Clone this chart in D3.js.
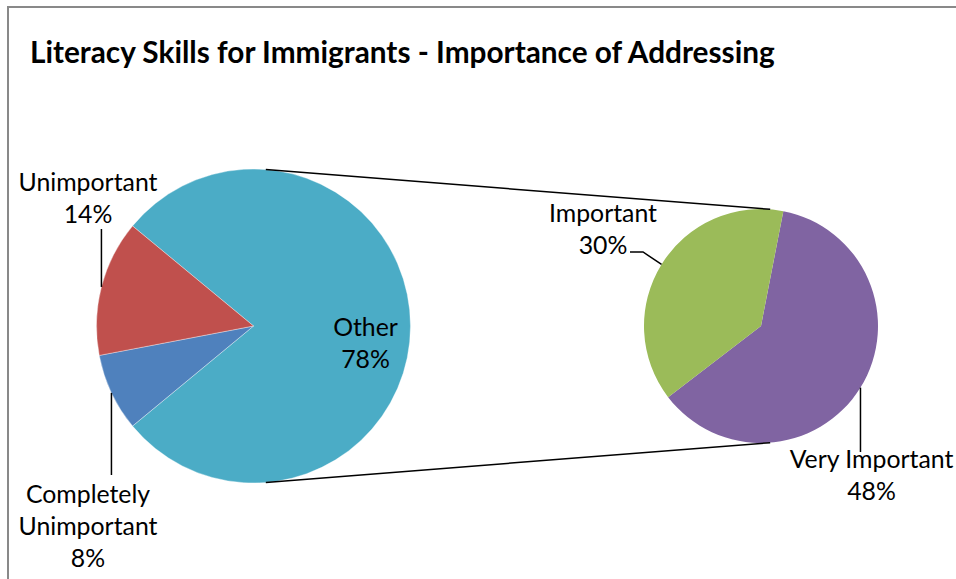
<!DOCTYPE html>
<html>
<head>
<meta charset="utf-8">
<script src="https://cdn.jsdelivr.net/npm/d3@7"></script>
<style>
  html, body { margin: 0; padding: 0; background: #fff; overflow: hidden; }
  svg { display: block; }
</style>
</head>
<body>
<svg id="chart" width="956" height="579"></svg>
<script>
// ---- data ----
const chartTitle = "Literacy Skills for Immigrants - Importance of Addressing";
const primaryCategories = ["Other", "Completely Unimportant", "Unimportant"];
const primaryValues = [78, 8, 14];
const secondaryCategories = ["Very Important", "Important"];
const secondaryValues = [48, 30];

const primaryColors = {"Other": "#4BACC6", "Completely Unimportant": "#4F81BD", "Unimportant": "#C0504D"};
const secondaryColors = {"Very Important": "#8064A2", "Important": "#9BBB59"};

const svg = d3.select("#chart");
const deg = Math.PI / 180;
const FONT = "Lato, 'Open Sans', sans-serif";

// chart border
svg.append("rect").attr("x", 8).attr("y", 7).attr("width", 1200).attr("height", 1200)
  .attr("fill", "none").attr("stroke", "#898989").attr("stroke-width", 2);

// title, fitted to the reference width
const title = svg.append("text").attr("x", 30).attr("y", 63)
  .attr("font-family", FONT).attr("font-weight", "bold").attr("font-size", 30)
  .attr("fill", "#000").text(chartTitle);
const tw = title.node().getComputedTextLength();
title.attr("font-size", 30 * 745 / tw);

// label font size fitted to "Unimportant" width
const probe = svg.append("text").attr("font-family", FONT).attr("font-size", 26).text("Unimportant");
const labelSize = 26 * 139 / probe.node().getComputedTextLength();
probe.remove();

// ---- primary pie ----
const c1 = {x: 253.5, y: 326, r: 157};
const total1 = d3.sum(primaryValues);
const splitFrac = (total1 - primaryValues[0]) / total1;
const start1 = 1.5 * Math.PI + splitFrac * Math.PI - 2 * Math.PI;
const pie1 = d3.pie().sort(null).value(d => d.v).startAngle(start1).endAngle(start1 + 2 * Math.PI);
const arcs1 = pie1(primaryCategories.map((c, i) => ({c, v: primaryValues[i]})));
const arc1 = d3.arc().innerRadius(0).outerRadius(c1.r);
const g1 = svg.append("g").attr("transform", `translate(${c1.x},${c1.y})`);
g1.selectAll("path").data(arcs1).join("path")
  .attr("d", arc1).attr("fill", d => primaryColors[d.data.c])
  .attr("stroke", "#fff").attr("stroke-width", 0.6).attr("stroke-opacity", 0.6);

// ---- secondary pie ----
const c2 = {x: 761, y: 326, r: 117};
const start2 = 11 * deg;
const pie2 = d3.pie().sort(null).value(d => d.v).startAngle(start2).endAngle(start2 + 2 * Math.PI);
const arcs2 = pie2(secondaryCategories.map((c, i) => ({c, v: secondaryValues[i]})));
const arc2 = d3.arc().innerRadius(0).outerRadius(c2.r);
const g2 = svg.append("g").attr("transform", `translate(${c2.x},${c2.y})`);
g2.selectAll("path").data(arcs2).join("path")
  .attr("d", arc2).attr("fill", d => secondaryColors[d.data.c]);

// ---- connector lines ----
const connA = 4.5 * deg;
const pt = (c, a, rr) => [c.x + (rr || c.r) * Math.sin(a), c.y - (rr || c.r) * Math.cos(a)];
[[connA, connA], [Math.PI - connA, Math.PI - connA]].forEach(([a1, a2]) => {
  const p1 = pt(c1, a1), p2 = pt(c2, a2);
  svg.append("line").attr("x1", p1[0]).attr("y1", p1[1]).attr("x2", p2[0]).attr("y2", p2[1])
    .attr("stroke", "#000").attr("stroke-width", 1.5);
});

// ---- labels ----
const mid = d => (d.startAngle + d.endAngle) / 2;
const byName1 = Object.fromEntries(arcs1.map(d => [d.data.c, d]));
const byName2 = Object.fromEntries(arcs2.map(d => [d.data.c, d]));
const pct = v => Math.round(v) + "%";

function label(lines, x, y0) {
  const t = svg.append("text").attr("font-family", FONT).attr("font-size", labelSize)
    .attr("fill", "#000").attr("text-anchor", "middle");
  lines.forEach((l, i) => t.append("tspan").attr("x", x).attr("y", y0 + i * 32.2).text(l));
}
function leader(points) {
  svg.append("path").attr("d", d3.line()(points)).attr("fill", "none")
    .attr("stroke", "#000").attr("stroke-width", 1.5);
}

// Other (inside)
label(["Other", pct(primaryValues[0] / total1 * 100)], 365.5, 336);

// Unimportant
{
  const p = pt(c1, mid(byName1["Unimportant"]));
  label(["Unimportant", pct(primaryValues[2] / total1 * 100)], 88, 190.5);
  leader([[p[0], 229], p]);
}
// Completely Unimportant
{
  const p = pt(c1, mid(byName1["Completely Unimportant"]));
  label(["Completely", "Unimportant", pct(primaryValues[1] / total1 * 100)], 88, 502.5);
  leader([p, [p[0], 475]]);
}
// Important
{
  const p = pt(c2, mid(byName2["Important"]));
  label(["Important", pct(secondaryValues[1] / total1 * 100)], 603, 221.5);
  leader([[630, 252], [643, 252], p]);
}
// Very Important
{
  const p = pt(c2, mid(byName2["Very Important"]));
  label(["Very Important", pct(secondaryValues[0] / total1 * 100)], 871.5, 468);
  leader([p, [p[0], 452]]);
}
</script>
</body>
</html>
